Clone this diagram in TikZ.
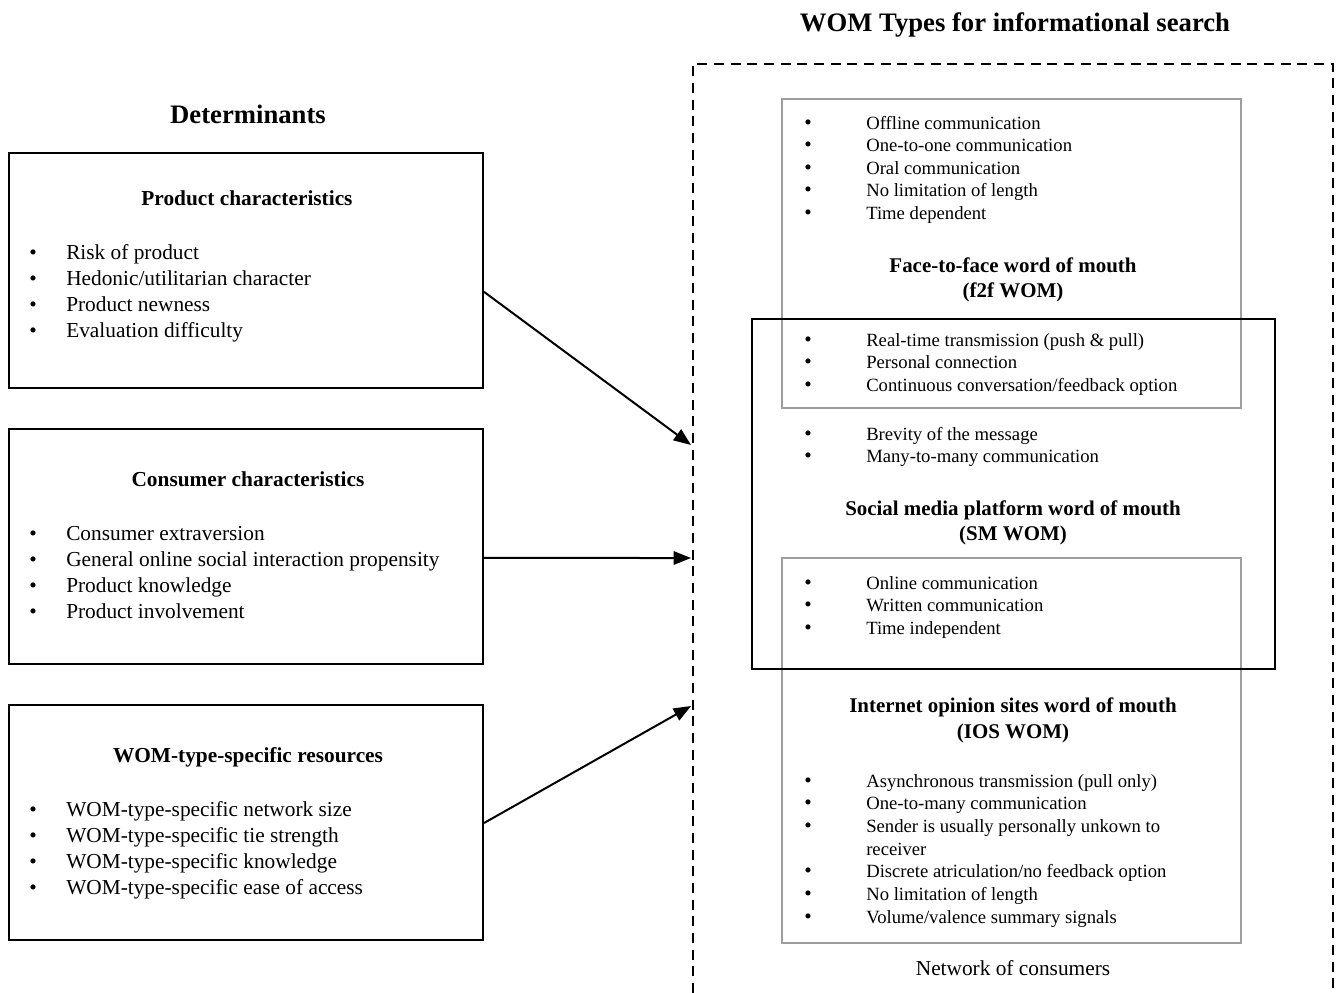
\documentclass[tikz,border=0pt]{standalone}
\usepackage{fontspec}
\setmainfont{Liberation Serif}
\usetikzlibrary{arrows.meta,fit}

\definecolor{boxgray}{RGB}{158,158,158}

\tikzset{
	title/.style={font=\fontsize{20}{24}\selectfont\bfseries, anchor=base},
	detbox/.style={draw, line width=1.5pt, inner sep=0pt},
	graybox/.style={draw=boxgray, line width=1.8pt, inner sep=0pt},
	smbox/.style={draw, line width=1.5pt, inner sep=0pt},
	lefthead/.style={font=\fontsize{16}{19}\selectfont\bfseries, anchor=base},
	leftitem/.style={font=\fontsize{16}{19}\selectfont, anchor=base west, inner sep=0pt},
	righthead/.style={font=\fontsize{15.7}{19}\selectfont\bfseries, anchor=base},
	rightitem/.style={font=\fontsize{14}{17}\selectfont, anchor=base west, inner sep=0pt},
	bul/.style={anchor=base, inner sep=0pt, font=\fontsize{16}{19}\selectfont},
	frame/.style={line width=1.5pt, dash pattern=on 7.5pt off 5pt},
	arr/.style={line width=1.5pt, -{Triangle[length=13pt,width=10pt]}}
}

\begin{document}
\begin{tikzpicture}[x=0.75pt,y=-0.75pt]
\useasboundingbox (0,0) rectangle (1336,993);

% headings
\node[title] (wt) at (1015,31) {WOM Types for informational search};
\node[title] (det) at (248,123) {Determinants};

% determinant boxes
\node[detbox, fit={(9,153) (483,388)}] (prod) {};
\node[detbox, fit={(9,429) (483,664)}] (cons) {};
\node[detbox, fit={(9,705) (483,940)}] (res) {};

\node[lefthead] (prodh) at (247,205) {Product characteristics};
\foreach \t [count=\i] in {Risk of product, Hedonic/utilitarian character, Product newness, Evaluation difficulty}
{
	\node[bul] (pb\i) at (33,{259+26*(\i-1)}) {\textbullet};
	\node[leftitem] (p\i) at (66,{259+26*(\i-1)}) {\t};
}

\node[lefthead] (consh) at (248,486) {Consumer characteristics};
\foreach \t [count=\i] in {Consumer extraversion, General online social interaction propensity, Product knowledge, Product involvement}
{
	\node[bul] (cb\i) at (33,{540+26*(\i-1)}) {\textbullet};
	\node[leftitem] (c\i) at (66,{540+26*(\i-1)}) {\t};
}

\node[lefthead] (resh) at (248,762) {WOM-type-specific resources};
\foreach \t [count=\i] in {WOM-type-specific network size, WOM-type-specific tie strength, WOM-type-specific knowledge, WOM-type-specific ease of access}
{
	\node[bul] (rb\i) at (33,{816+26*(\i-1)}) {\textbullet};
	\node[leftitem] (r\i) at (66,{816+26*(\i-1)}) {\t};
}

% network of consumers
\draw[frame] (693,993) -- (693,64) -- (1333,64) -- (1333,993);
\coordinate (in1) at (691,445);
\coordinate (in2) at (691,558);
\coordinate (in3) at (691,706);

\draw[arr] ([yshift=-16pt]prod.east) -- (in1);
\draw[arr] ([yshift=-8.6pt]cons.east) -- (in2);
\draw[arr] ([yshift=-0.4pt]res.east) -- (in3);

% WOM types
\node[graybox, fit={(782,99) (1241,408)}] (f2f) {};
\node[graybox, fit={(782,558) (1241,943)}] (ios) {};
\node[smbox, fit={(752,319) (1275,669)}] (sm) {};

\foreach \t [count=\i] in {Offline communication, One-to-one communication, Oral communication, No limitation of length, Time dependent}
{
	\node[bul] (fb\i) at (808,{129+22.5*(\i-1)}) {\textbullet};
	\node[rightitem] (f\i) at (866,{129+22.5*(\i-1)}) {\t};
}
\node[righthead] (f2fh) at (1013,272) {Face-to-face word of mouth};
\node[righthead] (f2fa) at (1013,297) {(f2f WOM)};

\foreach \t [count=\i] in {Real-time transmission (push \& pull), Personal connection, Continuous conversation/feedback option}
{
	\node[bul] (xb\i) at (808,{346+22.5*(\i-1)}) {\textbullet};
	\node[rightitem] (x\i) at (866,{346+22.5*(\i-1)}) {\t};
}

\foreach \t [count=\i] in {Brevity of the message, Many-to-many communication}
{
	\node[bul] (sb\i) at (808,{440+22.5*(\i-1)}) {\textbullet};
	\node[rightitem] (s\i) at (866,{440+22.5*(\i-1)}) {\t};
}
\node[righthead] (smh) at (1013,515) {Social media platform word of mouth};
\node[righthead] (sma) at (1013,540) {(SM WOM)};

\foreach \t [count=\i] in {Online communication, Written communication, Time independent}
{
	\node[bul] (ob\i) at (808,{589+22.5*(\i-1)}) {\textbullet};
	\node[rightitem] (o\i) at (866,{589+22.5*(\i-1)}) {\t};
}

\node[righthead] (iosh) at (1013,712) {Internet opinion sites word of mouth};
\node[righthead] (iosa) at (1013,738) {(IOS WOM)};
\foreach \t [count=\i] in {Asynchronous transmission (pull only), One-to-many communication, Sender is usually personally unkown to, receiver, Discrete atriculation/no feedback option, No limitation of length, Volume/valence summary signals}
{
	\node[rightitem] (i\i) at (866,{787+22.7*(\i-1)}) {\t};
}
\foreach \i in {1,2,3,5,6,7}
	\node[bul] (ib\i) at (808,{787+22.7*(\i-1)}) {\textbullet};

\node[font=\fontsize{16}{19}\selectfont, anchor=base] (net) at (1013,975) {Network of consumers};
\end{tikzpicture}
\end{document}
